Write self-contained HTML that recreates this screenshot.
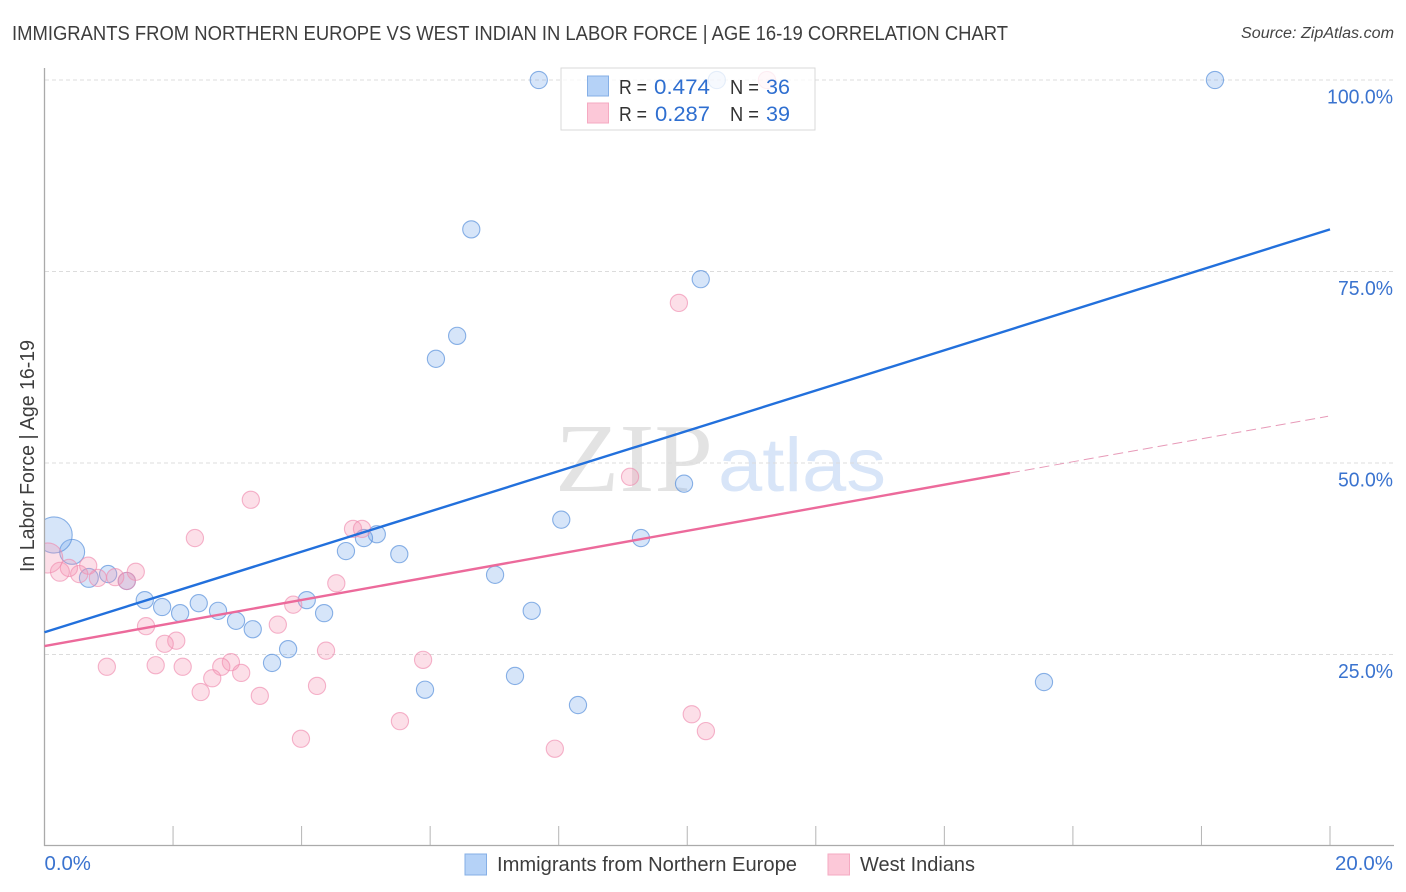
<!DOCTYPE html>
<html><head><meta charset="utf-8"><title>Correlation chart</title>
<style>
html,body{margin:0;padding:0;background:#fff}
svg{display:block}
text{font-family:"Liberation Sans",sans-serif}
</style></head>
<body>
<svg id="chart" width="1406" height="892" viewBox="0 0 1406 892" xmlns="http://www.w3.org/2000/svg">
<defs><clipPath id="plot-clip"><rect x="45" y="60" width="1350" height="786"/></clipPath></defs>
<rect width="1406" height="892" fill="#fff"/>
<text x="12" y="40" font-size="20" fill="#3d3d3d" textLength="996" lengthAdjust="spacingAndGlyphs">IMMIGRANTS FROM NORTHERN EUROPE VS WEST INDIAN IN LABOR FORCE | AGE 16-19 CORRELATION CHART</text>
<text x="1394" y="38" font-size="15.5" font-style="italic" fill="#444" text-anchor="end" textLength="153" lengthAdjust="spacingAndGlyphs">Source: ZipAtlas.com</text>
<text x="555" y="491" font-size="98" fill="#e3e3e3" style="font-family:'Liberation Serif',serif" textLength="158" lengthAdjust="spacingAndGlyphs">ZIP</text>
<text x="718" y="491" font-size="76" fill="#d8e5f8" textLength="168" lengthAdjust="spacingAndGlyphs">atlas</text>
<g id="grid"></g>
<g id="axes"></g>
<g id="series" clip-path="url(#plot-clip)"></g>
<rect x="30" y="500" width="14.5" height="90" fill="#fff"/>
<g id="axis-top"></g>
<g id="lines"></g>
<text transform="translate(34,572) rotate(-90)" font-size="20" fill="#3d3d3d" textLength="232" lengthAdjust="spacingAndGlyphs">In Labor Force | Age 16-19</text>

<g>
<rect x="561" y="68" width="254" height="62" fill="#fff" fill-opacity="0.78" stroke="#d9d9d9" stroke-width="1"/>
<rect x="587.5" y="76" width="21" height="20" fill="#b5d2f7" stroke="#85afe6"/>
<rect x="587.5" y="103" width="21" height="20" fill="#fcc8d8" stroke="#f5aac2"/>
<text x="619" y="94" font-size="20" fill="#333" textLength="28" lengthAdjust="spacingAndGlyphs">R =</text>
<text x="654" y="94" font-size="21" fill="#2f6fd0" textLength="56" lengthAdjust="spacingAndGlyphs">0.474</text>
<text x="730" y="94" font-size="20" fill="#333" textLength="29" lengthAdjust="spacingAndGlyphs">N =</text>
<text x="766" y="94" font-size="21" fill="#2f6fd0" textLength="24" lengthAdjust="spacingAndGlyphs">36</text>
<text x="619" y="121" font-size="20" fill="#333" textLength="28" lengthAdjust="spacingAndGlyphs">R =</text>
<text x="655" y="121" font-size="21" fill="#2f6fd0" textLength="55" lengthAdjust="spacingAndGlyphs">0.287</text>
<text x="730" y="121" font-size="20" fill="#333" textLength="29" lengthAdjust="spacingAndGlyphs">N =</text>
<text x="766" y="121" font-size="21" fill="#2f6fd0" textLength="24" lengthAdjust="spacingAndGlyphs">39</text>
</g>

<g>
<rect x="465" y="854" width="21.5" height="21" fill="#b5d2f7" stroke="#85afe6"/>
<text x="497" y="871" font-size="20" fill="#3d3d3d" textLength="300" lengthAdjust="spacingAndGlyphs">Immigrants from Northern Europe</text>
<rect x="828" y="854" width="21.5" height="21" fill="#fcc8d8" stroke="#f5aac2"/>
<text x="860" y="871" font-size="20" fill="#3d3d3d" textLength="115" lengthAdjust="spacingAndGlyphs">West Indians</text>
</g>
<script>
const yTickValues = [25, 50, 75, 100];
const yTickLabels = ['25.0%', '50.0%', '75.0%', '100.0%'];
const xTickValues = [0, 2, 4, 6, 8, 10, 12, 14, 16, 18, 20];
const xEndValues = [0, 20];
const xEndLabels = ['0.0%', '20.0%'];

const blueX = [7.69,10.46,18.21,6.64,10.21,6.42,6.09,9.95,8.04,9.28,5.17,4.97,5.52,4.69,7.01,7.58,7.32,8.30,5.92,15.55,4.35,4.08,3.79,3.54,3.24,2.98,2.70,2.40,2.11,1.83,1.56,1.28,0.99,0.69,0.43,0.15];
const blueY = [100,100,100,80.5,74.0,66.6,63.6,47.3,42.6,40.2,40.7,40.2,38.1,38.5,35.4,30.7,22.2,18.4,20.4,21.4,30.4,32.1,25.7,23.9,28.3,29.4,30.7,31.7,30.4,31.2,32.1,34.6,35.5,35.0,38.4,40.6];
const blueWeight = [1,1,1,1,1,1,1,1,1,1,1,1,1,1,1,1,1,1,1,1,1,1,1,1,1,1,1,1,1,1,1,1,1,1.1,1.45,2.1];

const pinkX = [11.24,9.87,3.21,9.11,2.34,4.80,4.94,4.54,3.87,3.63,4.38,5.89,4.24,3.35,5.53,3.99,7.94,10.07,10.29,3.06,2.90,2.75,2.61,2.43,2.15,2.05,1.87,1.73,1.58,0.97,1.42,1.28,1.10,0.83,0.68,0.54,0.38,0.24,0.05];
const pinkY = [100,70.9,45.2,48.2,40.2,41.4,41.4,34.3,31.5,28.9,25.5,24.3,20.9,19.6,16.3,14.0,12.7,17.2,15.0,22.6,24.0,23.4,21.9,20.1,23.4,26.8,26.4,23.6,28.7,23.4,35.8,34.6,35.1,35.0,36.6,35.5,36.3,35.8,37.6];
const pinkWeight = [1,1,1,1,1,1,1,1,1,1,1,1,1,1,1,1,1,1,1,1,1,1,1,1,1,1,1,1,1,1,1,1,1,1,1,1,1,1.1,1.75];

const blueTrend = [27.9, 80.5];
const pinkTrendSolid = [26.1, 48.7];
const pinkTrendSolidEnd = 15.02;
const pinkTrendDashEnd = 19.97;
const pinkTrendDashValue = 56.1;

const NS = 'http://www.w3.org/2000/svg';
const sx = v => 44.5 + v * 64.275;
const sy = v => 846 - v * 7.66;
function make(tag, attrs, parent, txt) {
  const el = document.createElementNS(NS, tag);
  for (const k in attrs) el.setAttribute(k, attrs[k]);
  if (txt !== undefined) el.textContent = txt;
  parent.appendChild(el);
  return el;
}
const gridG = document.getElementById('grid');
const axesG = document.getElementById('axes');
const seriesG = document.getElementById('series');
const linesG = document.getElementById('lines');
const axisTopG = document.getElementById('axis-top');

yTickValues.forEach((v, i) => {
  const ln = make('line', {x1: 45, x2: 1393, y1: sy(v), y2: sy(v), stroke: '#dcdcdc', 'stroke-width': 1, 'stroke-dasharray': '4 3'}, gridG);
  
  
  const t = make('text', {x: 1393, y: sy(v) + 23.5, 'font-size': 20, fill: '#3a73cf', 'text-anchor': 'end', textLength: yTickLabels[i].length * 11, lengthAdjust: 'spacingAndGlyphs'}, axesG, yTickLabels[i]);
  
  
});

const yAxis = make('line', {x1: 44.5, x2: 44.5, y1: 68, y2: 846, stroke: '#aaa', 'stroke-width': 1.3}, axisTopG);


const xAxis = make('line', {x1: 44, x2: 1394, y1: 845.5, y2: 845.5, stroke: '#aaa', 'stroke-width': 1.3}, axisTopG);



xTickValues.forEach(v => {
  const tk = make('line', {x1: sx(v), x2: sx(v), y1: 826, y2: 846, stroke: '#b5b5b5', 'stroke-width': 1}, axesG);
  
  
});
xEndValues.forEach((v, i) => {
  const t = make('text', {x: i === 0 ? sx(v) : 1393, y: 870, 'font-size': 20, fill: '#3a73cf', 'text-anchor': i === 0 ? 'start' : 'end', textLength: xEndLabels[i].length * 11.6, lengthAdjust: 'spacingAndGlyphs'}, axesG, xEndLabels[i]);
  
  
});

blueX.forEach((v, i) => {
  const c = make('circle', {cx: sx(v), cy: sy(blueY[i]), r: 8.6 * blueWeight[i], fill: 'rgba(120,170,235,0.3)', stroke: 'rgba(90,145,220,0.7)', 'stroke-width': 1.1}, seriesG);
  
  
});
pinkX.forEach((v, i) => {
  const c = make('circle', {cx: sx(v), cy: sy(pinkY[i]), r: 8.6 * pinkWeight[i], fill: 'rgba(245,150,180,0.3)', stroke: 'rgba(240,140,175,0.65)', 'stroke-width': 1.1}, seriesG);
  
  
});

const tb = make('line', {x1: sx(0), y1: sy(blueTrend[0]), x2: sx(20), y2: sy(blueTrend[1]), stroke: '#2270dc', 'stroke-width': 2.4}, linesG);


const tp = make('line', {x1: sx(0), y1: sy(pinkTrendSolid[0]), x2: sx(pinkTrendSolidEnd), y2: sy(pinkTrendSolid[1]), stroke: '#ec6a9b', 'stroke-width': 2.4}, linesG);


const td = make('line', {x1: sx(pinkTrendSolidEnd), y1: sy(pinkTrendSolid[1]), x2: sx(pinkTrendDashEnd), y2: sy(pinkTrendDashValue), stroke: '#e79ab8', 'stroke-width': 1, 'stroke-dasharray': '10 5'}, linesG);


</script>
</svg>
</body></html>
